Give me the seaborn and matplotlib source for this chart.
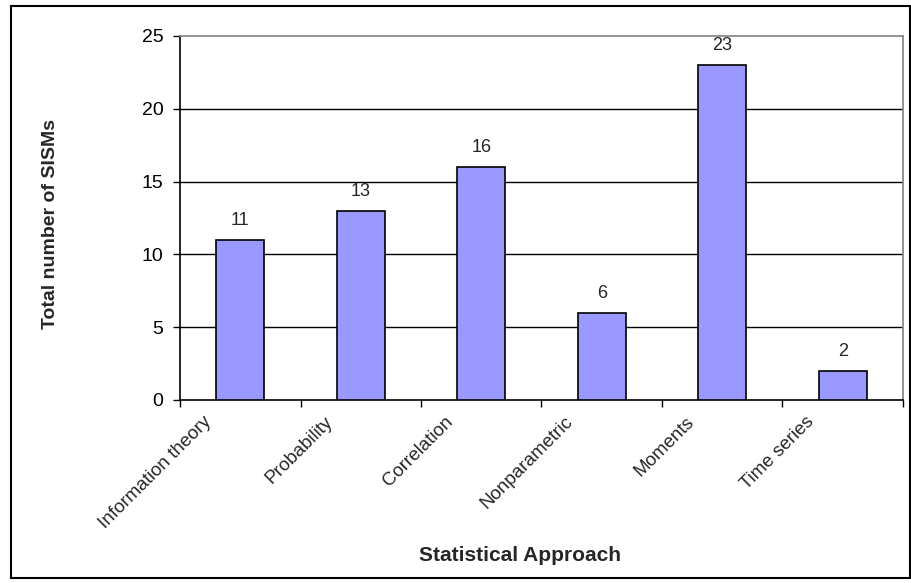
import matplotlib
matplotlib.use("Agg")
import matplotlib.pyplot as plt
import matplotlib.transforms as mtransforms
import seaborn as sns
import pandas as pd
from matplotlib.patches import Rectangle

categories = ["Information theory", "Probability", "Correlation",
              "Nonparametric", "Moments", "Time series"]
counts = [11, 13, 16, 6, 23, 2]
y_ticks = [0, 5, 10, 15, 20, 25]

df = pd.DataFrame({"approach": categories, "count": counts})

sns.set_theme(style="white")
plt.rcParams["font.family"] = ["Liberation Sans", "DejaVu Sans"]

fig = plt.figure(figsize=(9.12, 5.83), dpi=100)
ax = fig.add_axes([0.1974, 0.3139, 0.7927, 0.6244])

sns.barplot(data=df, x="approach", y="count", ax=ax, color="#9999FF",
            saturation=1, width=0.4, edgecolor="black", linewidth=1.2,
            zorder=3)

ax.set_xlim(-0.5, len(categories) - 0.5)
ax.set_ylim(0, 25)
ax.set_yticks(y_ticks)
ax.tick_params(axis="y", labelsize=14, length=5, width=1, direction="out",
               left=True, pad=7, colors="black")
for y in y_ticks[1:-1]:
    ax.axhline(y, color="black", linewidth=1, zorder=1)

# category boundary ticks on the x axis
ax.set_xticks([i - 0.5 for i in range(len(categories) + 1)], minor=True)
ax.tick_params(axis="x", which="minor", length=5, width=1, direction="out",
               bottom=True, color="black")
ax.tick_params(axis="x", which="major", length=0, pad=6)
ax.set_xticks(range(len(categories)))
ax.set_xticklabels(categories, rotation=45, ha="right",
                   rotation_mode="anchor", fontsize=13.5)
shift = mtransforms.ScaledTranslation(-0.37, -0.05, fig.dpi_scale_trans)
for lbl in ax.get_xticklabels():
    lbl.set_transform(lbl.get_transform() + shift)

for side in ["left", "bottom"]:
    ax.spines[side].set_color("black")
    ax.spines[side].set_linewidth(1.2)
for side in ["top", "right"]:
    ax.spines[side].set_color("#808080")
    ax.spines[side].set_linewidth(1.2)

for i, v in enumerate(counts):
    ax.annotate(str(v), (i, v), xytext=(0, 8), textcoords="offset points",
                ha="center", va="bottom", fontsize=13)

ax.set_xlabel("Statistical Approach", fontsize=15, fontweight="bold")
ax.set_ylabel("Total number of SISMs", fontsize=14, fontweight="bold")
ax.xaxis.set_label_coords(0.47, -0.40)
ax.yaxis.set_label_coords(-0.168, 0.484)

fig.patches.append(Rectangle((11 / 912, 5 / 583), 899 / 912, 572 / 583,
                             transform=fig.transFigure, fill=False,
                             edgecolor="black", linewidth=1.5))

fig.savefig("out.png", dpi=100, facecolor="white")
